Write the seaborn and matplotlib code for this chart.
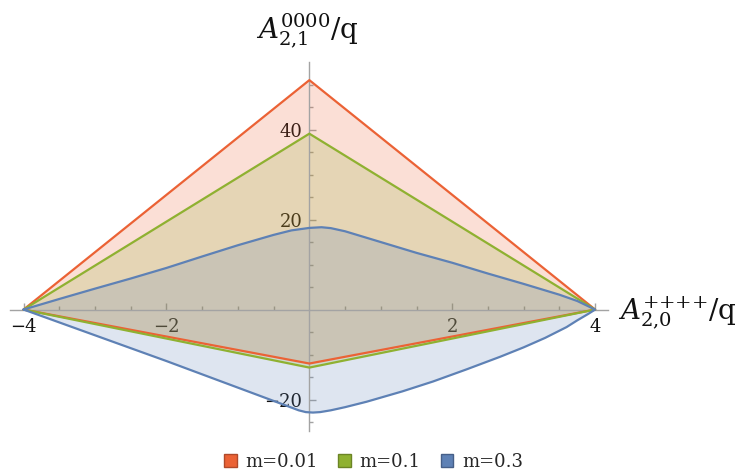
import numpy as np
import pandas as pd
import seaborn as sns
import matplotlib.pyplot as plt
from matplotlib.patches import Patch

# region outlines (closed polygons)
red_x = [-4, 0, 4, 0, -4]
red_y = [0, 51.0, 0, -12.0, 0]

green_x = [-4, 0, 4, 0, -4]
green_y = [0, 39.1, 0, -12.9, 0]

blue_upper_x = [-4, -3.5, -3, -2.5, -2, -1.5, -1, -0.5, -0.25, 0, 0.17, 0.3, 0.5,
                0.75, 1, 1.5, 2, 2.5, 3, 3.5, 3.75, 4]
blue_upper_y = [0, 2.35, 4.65, 6.9, 9.25, 11.8, 14.3, 16.6, 17.6, 18.15, 18.3, 18.1,
                17.4, 16.2, 15.0, 12.6, 10.4, 8.0, 5.7, 3.3, 1.9, 0]
blue_lower_x = [4, 3.9, 3.75, 3.6, 3.3, 3.0, 2.67, 2.2, 1.73, 1.3, 0.8, 0.5, 0.3,
                0.15, 0.05, -0.05, -0.15, -0.3, -2, -4]
blue_lower_y = [0, -1.0, -2.4, -3.9, -6.3, -8.4, -10.5, -13.3, -16.0, -18.2, -20.5,
                -21.7, -22.4, -22.8, -22.9, -22.8, -22.4, -21.5, -11.45, 0]

labels = ["m=0.01", "m=0.1", "m=0.3"]
colors = ["#EB6235", "#8FB131", "#5E81B5"]
edge_colors = ["#B0492A", "#6B8425", "#465F88"]

x_major = [-4, -2, 2, 4]
y_major = [-20, 20, 40]

sns.set_style("white")
plt.rcParams["font.family"] = ["DejaVu Serif"]
plt.rcParams["mathtext.fontset"] = "dejavuserif"

blue_x = blue_upper_x + blue_lower_x
blue_y = blue_upper_y + blue_lower_y

df = pd.concat([
    pd.DataFrame({"x": red_x, "y": red_y, "m": labels[0]}),
    pd.DataFrame({"x": green_x, "y": green_y, "m": labels[1]}),
    pd.DataFrame({"x": blue_x, "y": blue_y, "m": labels[2]}),
], ignore_index=True)

fig = plt.figure(figsize=(7.4, 4.72), dpi=100)
ax = fig.add_axes([10 / 740, 41 / 472, 598 / 740, 369.3 / 472])

# translucent fills first, then outlines on top
for (lab, grp), col in zip(df.groupby("m", sort=False), colors):
    ax.fill(grp["x"], grp["y"], color=col, alpha=0.2, lw=0, zorder=1)

sns.lineplot(data=df, x="x", y="y", hue="m", palette=colors, sort=False,
             estimator=None, linewidth=1.6, legend=False, ax=ax, zorder=3)
for ln in ax.lines:
    ln.set_clip_on(False)
    ln.set_solid_joinstyle("round")

ax.set_xlim(-4.19, 4.18)
ax.set_ylim(-27, 55.1)

# Mathematica-style axes crossing at origin
for side in ["top", "right"]:
    ax.spines[side].set_visible(False)
for side in ["left", "bottom"]:
    ax.spines[side].set_position(("data", 0))
    ax.spines[side].set_color("#a3a3a3")
    ax.spines[side].set_linewidth(1.0)

ax.set_xticks(x_major)
ax.set_xticklabels([f"{v}".replace("-", "\u2212") for v in x_major])
ax.set_xticks([v / 2 for v in range(-8, 9) if v % 4 != 0], minor=True)
ax.set_yticks(y_major)
ax.set_yticklabels([f"{v}".replace("-", "\u2212") for v in y_major])
ax.set_yticks([v for v in range(-25, 55, 5) if v not in y_major and v != 0], minor=True)

ax.tick_params(which="both", direction="in", color="#a3a3a3", width=1.0,
               bottom=True, left=True, labelsize=13, labelcolor="#111111")
ax.tick_params(which="major", length=5)
ax.tick_params(which="minor", length=3)
ax.tick_params(axis="x", which="major", pad=6)
ax.tick_params(axis="y", which="major", pad=5)
ax.set_xlabel("")
ax.set_ylabel("")

fig.text(307 / 740, 1 - 39 / 472, r"$A_{2{,}1}^{0000}$/q", ha="center",
         va="baseline", fontsize=20, color="#111111")
fig.text(618 / 740, 1 - 320 / 472, r"$A_{2{,}0}^{{+}{+}{+}{+}}$/q", ha="left",
         va="baseline", fontsize=20, color="#111111")

handles = [Patch(facecolor=c, edgecolor=e, linewidth=1.0)
           for c, e in zip(colors, edge_colors)]
fig.legend(handles, labels, loc="center", bbox_to_anchor=(0.505, 0.021),
           ncol=3, frameon=False, fontsize=13, handlelength=0.7,
           handleheight=0.7, handletextpad=0.5, columnspacing=1.1)

fig.savefig("out.png", dpi=100)
